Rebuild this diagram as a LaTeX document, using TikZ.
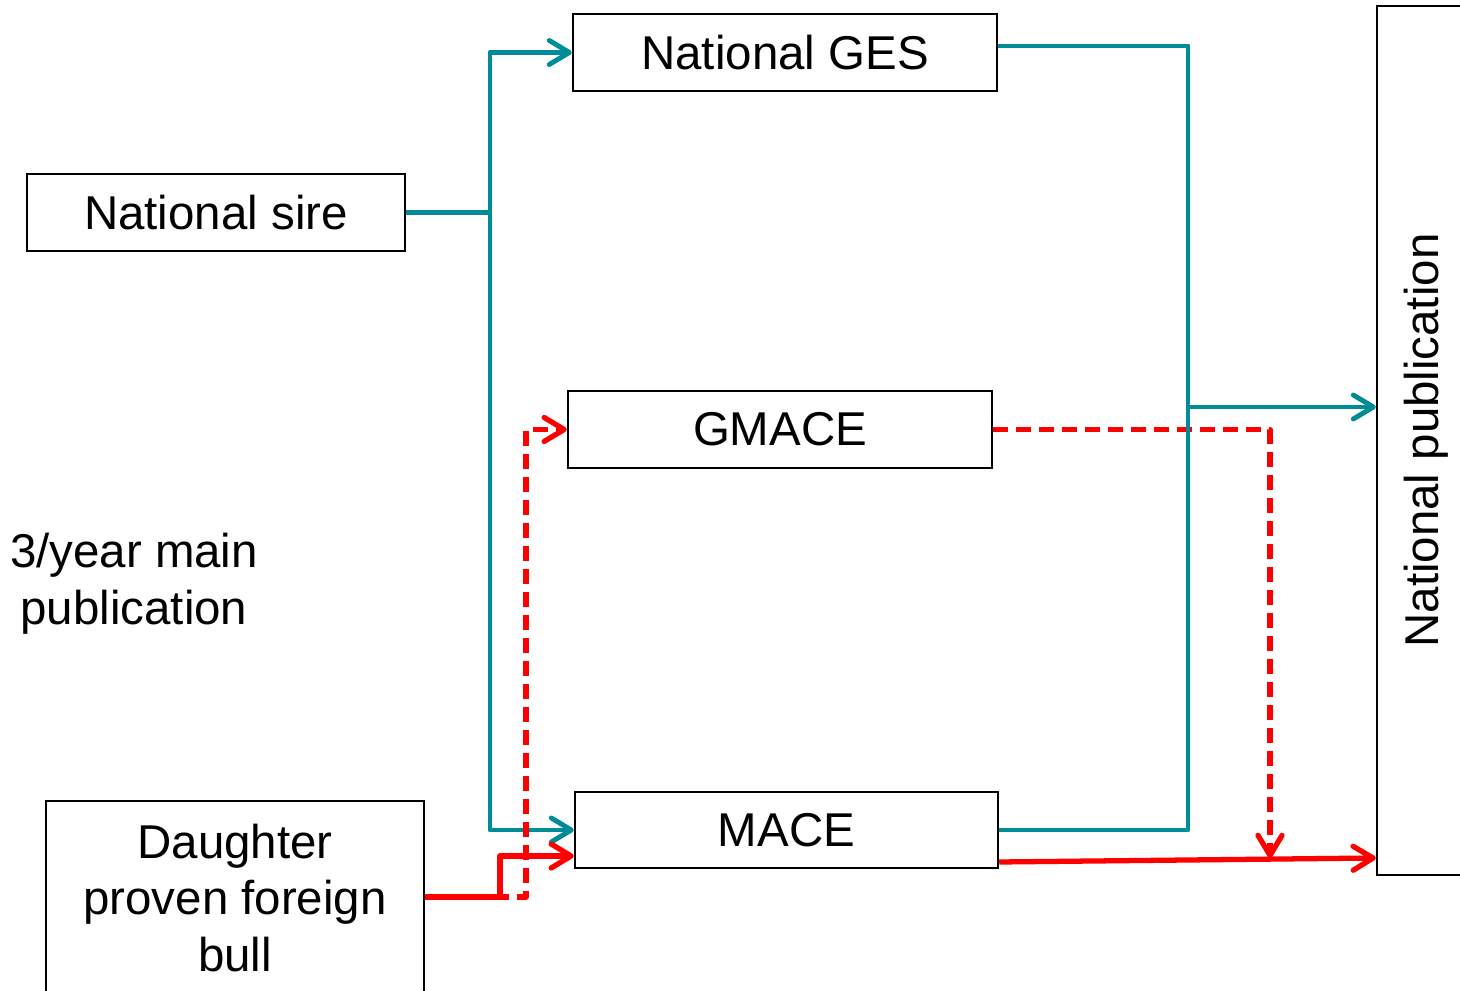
\documentclass[tikz,border=0pt]{standalone}
\usepackage{fontspec}
\setmainfont{Liberation Sans}
\usetikzlibrary{arrows.meta}
\definecolor{flowteal}{RGB}{0,140,150}
\tikzset{>={Straight Barb[length=2mm,width=2.4mm,round]},every node/.style={font=\fontsize{13.5}{16.2}\selectfont},
box/.style={draw,line width=.7pt,minimum width=4.24cm,minimum height=.77cm,inner sep=0pt},
tealedge/.style={draw=flowteal,line width=1.4pt,line join=round},tealflow/.style={tealedge,->},
rededge/.style={draw=red,line width=1.5pt,line join=round},redflow/.style={rededge,->},redskip/.style={redflow,dash pattern=on .15cm off .08cm}}

\begin{document}
\begin{tikzpicture}[y=-1cm]
\useasboundingbox (0,0) rectangle (14.6,9.91);
% boxes
\node[box] (ges) at (7.85,.525) {National GES};
\node[box,minimum width=3.78cm] (sire) at (2.16,2.125) {National sire};
\node[box] (gmace) at (7.80,4.295) {GMACE};
\node[box,minimum width=4.23cm,minimum height=.76cm] (mace) at (7.865,8.30) {MACE};
\node[box,minimum width=3.78cm,minimum height=1.94cm,align=center] (daughter) at (2.35,8.98) {Daughter\\proven foreign\\bull};
\node[box,minimum width=.98cm,minimum height=8.69cm] (pub) at (14.26,4.405) {\rotatebox{90}{National publication}};
\node[align=center] (note) at (1.34,5.84) {3/year main\\publication};
% bend points
\coordinate (split) at (4.9,2.125);\coordinate (jog) at (5.0,8.97);\coordinate (rise) at (5.26,8.97);
\coordinate (merge) at (11.88,8.30);\coordinate (out) at (11.88,4.07);\coordinate (drop) at (12.70,8.58);
% flows
\draw[redskip] (gmace.east) -| (drop);
\draw[tealedge] (sire.east) -- (split);
\draw[tealflow] (split) |- (ges.west);\draw[tealflow] (split) |- (mace.west);
\draw[tealedge] ([yshift=.065cm]ges.east) -| (merge) -- (mace.east);
\draw[tealflow] (out) -- (out -| pub.west);
\draw[redskip] (daughter.east |- jog) -- (rise) |- (gmace.west);
\draw[redflow] (daughter.east |- jog) -- (jog) |- ([yshift=-.26cm]mace.west);
\draw[redflow] ([yshift=-.32cm]mace.east) -- (drop -| pub.west);
\end{tikzpicture}
\end{document}
